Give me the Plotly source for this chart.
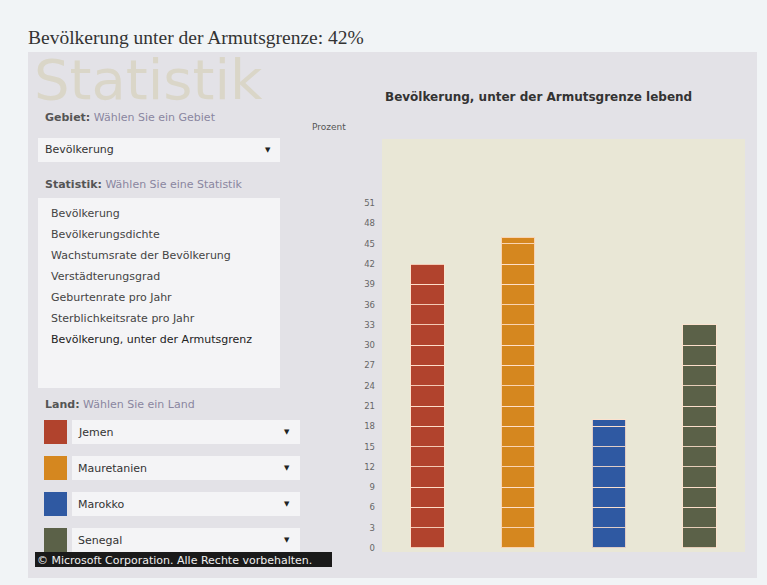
import plotly.graph_objects as go

# ---- data ----
countries = ["Jemen", "Mauretanien", "Marokko", "Senegal"]
values = [42, 46, 19, 33]
colors = ["#b1432d", "#d5871f", "#2f59a2", "#5b6148"]
segment = 3
tick_vals = list(range(0, 52, 3))
stat_items = ["Bevölkerung", "Bevölkerungsdichte", "Wachstumsrate der Bevölkerung",
              "Verstädterungsgrad", "Geburtenrate pro Jahr", "Sterblichkeitsrate pro Jahr",
              "Bevölkerung, unter der Armutsgrenz"]
headline = "Bevölkerung unter der Armutsgrenze: 42%"
chart_title = "Bevölkerung, unter der Armutsgrenze lebend"

W, H = 767, 585
PL, PR, PT, PB = 382, 745, 139, 552


def px(x):
    return (x - PL) / (PR - PL)


def py(y):
    return (PB - y) / (PB - PT)


fig = go.Figure()

# stacked segments (each block = 3 units) derived from values
n_levels = max((v + segment - 1) // segment for v in values)
for k in range(n_levels):
    ys = []
    for v in values:
        rem = v - k * segment
        ys.append(min(segment, rem) if rem > 0 else None)
    fig.add_trace(go.Bar(
        x=countries, y=ys, width=0.37,
        marker=dict(color=colors, line=dict(color="rgba(255,225,205,0.85)", width=1)),
        showlegend=False, hoverinfo="skip"))

shapes = []
ann = []

def rect(x0, y0, x1, y1, fill, line=None, layer="below"):
    shapes.append(dict(type="rect", xref="paper", yref="paper",
                       x0=px(x0), x1=px(x1), y0=py(y1), y1=py(y0),
                       fillcolor=fill, line=dict(width=1 if line else 0, color=line or fill),
                       layer=layer))

def text(x, y, s, size=10, color="#444", anchor="left", family="DejaVu Sans", **kw):
    ann.append(dict(xref="paper", yref="paper", x=px(x), y=py(y), text=s,
                    showarrow=False, xanchor=anchor, yanchor="middle",
                    font=dict(size=size, color=color, family=family), **kw))

FS = 11
# main gray panel
rect(28, 52, 757, 578, "#e3e2e7")
# plot area background
rect(PL, PT, PR, PB, "#e9e7d6")
# statistik watermark
text(32, 79, "Statistik", size=56, color="#dad6c8", family="DejaVu Sans")
# headline
text(26, 37, headline, size=19.5, color="#333", family="Liberation Serif")

LBL = "#8a86a0"
# Gebiet
text(43, 118, "<b>Gebiet:</b> <span style='color:%s'>Wählen Sie ein Gebiet</span>" % LBL, size=FS, color="#555")
rect(38, 138, 280, 162, "#f4f4f6")
text(43, 150, "Bevölkerung", size=FS, color="#333")
text(268, 150, "▼", size=7, color="#222", anchor="center")

# Statistik
text(43, 184, "<b>Statistik:</b> <span style='color:%s'>Wählen Sie eine Statistik</span>" % LBL, size=FS, color="#555")
rect(38, 198, 280, 388, "#f4f4f6")
for i, s in enumerate(stat_items):
    text(49, 213 + i * 21, s, size=FS, color="#444" if i < len(stat_items) - 1 else "#222")

# Land
text(43, 404, "<b>Land:</b> <span style='color:%s'>Wählen Sie ein Land</span>" % LBL, size=FS, color="#555")
for i, (c, col) in enumerate(zip(countries, colors)):
    yc = 432 + i * 36
    rect(44, yc - 12, 67, yc + 12, col)
    rect(72, yc - 12, 300, yc + 12, "#f4f4f6")
    text(76, yc, c, size=FS, color="#333")
    text(287, yc, "▼", size=7, color="#222", anchor="center")

# footer
rect(35, 552, 332, 567, "#1a1a1a")
text(35, 560, "© Microsoft Corporation. Alle Rechte vorbehalten.", size=FS, color="#f0f0f0")

# chart title and axis label
text(538, 97, "<b>" + chart_title + "</b>", size=12, color="#333", anchor="center")
text(310, 127, "Prozent", size=9, color="#555")

fig.update_layout(
    width=W, height=H,
    margin=dict(l=PL, r=W - PR, t=PT, b=H - PB),
    paper_bgcolor="#f1f4f6",
    plot_bgcolor="#e9e7d6",
    barmode="stack",
    bargap=0.63,
    shapes=shapes,
    annotations=ann,
    xaxis=dict(showticklabels=False, showgrid=False, zeroline=False, showline=False,
               ticks="", range=[-0.5, 3.5]),
    yaxis=dict(range=[-0.6, 60.5], tickvals=tick_vals, showgrid=False, zeroline=False,
               showline=False, ticks="", tickfont=dict(size=8.5, color="#666", family="DejaVu Sans"),
               ticklabelstandoff=6),
    font=dict(family="DejaVu Sans"),
)

fig.write_html("out.html", config={"displayModeBar": False},
               post_script="document.body.style.margin='0';")
